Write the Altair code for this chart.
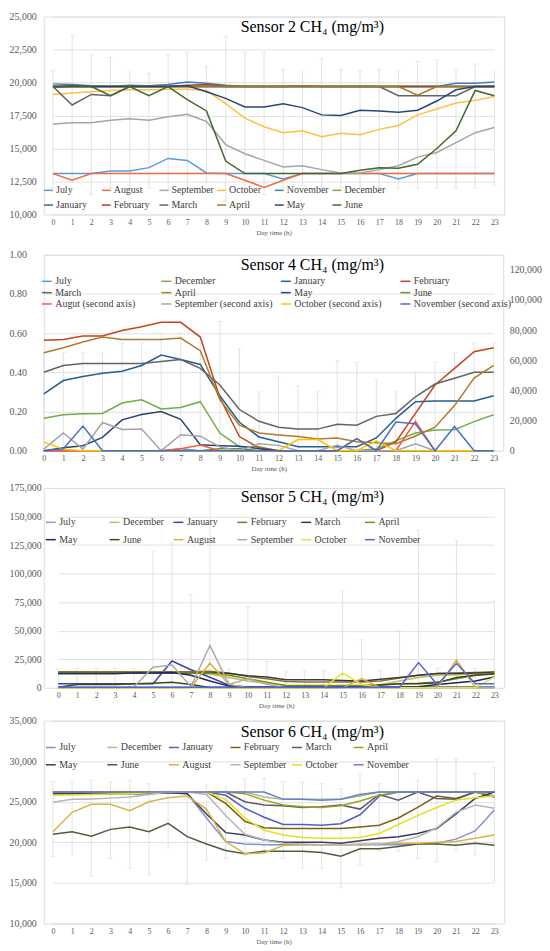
import altair as alt
import pandas as pd

FONT = "Liberation Serif"
HOURS = list(range(24))
GRID = "#D9D9D9"
LABEL = "#595959"
ERR = "#E2E2E2"

# ---------------- Sensor 2 ----------------
S2_NAMES = ["July", "August", "September", "October", "November", "December",
            "January", "February", "March", "April", "May", "June"]
S2_COLORS = ["#5B9BD5", "#F26A42", "#A5A5A5", "#FFC040", "#3F7CC0", "#70AD47",
             "#2E6AA0", "#B0401E", "#636363", "#A6791F", "#28457A", "#43682B"]
s2_july = [13100, 13100, 13100, 13300, 13300, 13550, 14250, 14100, 13150, 13100, 13100, 13100,
           12700, 13100, 13100, 13100, 13100, 13100, 12700, 13100, 13100, 13100, 13100, 13100]
s2_august = [13100, 12600, 13100, 13100, 13100, 13100, 13100, 13100, 13100, 13100, 12600, 12050,
             12600, 13100, 13100, 13100, 13100, 13100, 13100, 13100, 13100, 13100, 13100, 13100]
s2_september = [16850, 16950, 16950, 17150, 17250, 17150, 17400, 17600, 17050, 15300, 14600, 14100,
                13600, 13700, 13400, 13150, 13150, 13400, 13700, 14350, 14700, 15450, 16200, 16600]
s2_october = [19100, 19200, 19300, 19400, 19450, 19450, 19500, 19500, 19400, 18400, 17300, 16650,
              16200, 16350, 15900, 16150, 16050, 16450, 16750, 17550, 18000, 18450, 18650, 18950]
s2_november = [19900, 19850, 19750, 19700, 19800, 19750, 19850, 20050, 19950, 19800, 19700, 19700,
               19700, 19700, 19700, 19700, 19700, 19700, 19700, 19700, 19700, 19950, 19950, 20050]
s2_december = [19700, 19700, 19700, 19700, 19700, 19700, 19700, 19700, 19700, 19700, 19700, 19700,
               19700, 19750, 19700, 19700, 19700, 19700, 19700, 19700, 19700, 19700, 19700, 19700]
s2_january = [19650, 19700, 19700, 19700, 19700, 19700, 19700, 19700, 19700, 19700, 19700, 19700,
              19700, 19700, 19700, 19700, 19700, 19700, 19700, 19700, 19700, 19700, 19700, 19700]
s2_february = [19700, 19700, 19700, 19700, 19700, 19700, 19700, 19800, 19850, 19700, 19700, 19700,
               19700, 19700, 19700, 19700, 19700, 19700, 19700, 19700, 19700, 19700, 19700, 19700]
s2_march = [19700, 18300, 19100, 19000, 19700, 19700, 19700, 19700, 19700, 19700, 19700, 19700,
            19700, 19700, 19700, 19700, 19700, 19700, 19000, 19000, 19000, 19000, 19700, 19700]
s2_april = [19700, 19700, 19700, 19700, 19700, 19700, 19700, 19700, 19700, 19700, 19700, 19700,
            19700, 19750, 19700, 19700, 19700, 19700, 19700, 19050, 19700, 19700, 19700, 19700]
s2_may = [19700, 19700, 19700, 19700, 19700, 19700, 19700, 19750, 19300, 18800, 18150, 18150,
          18400, 18100, 17550, 17500, 17900, 17850, 17750, 17900, 18600, 19450, 19700, 19700]
s2_june = [19700, 19750, 19700, 19000, 19700, 19000, 19700, 18700, 17850, 14050, 13100, 13100,
           13100, 13100, 13100, 13100, 13350, 13550, 13500, 13800, 15000, 16350, 19400, 19000]
S2_SERIES = [s2_july, s2_august, s2_september, s2_october, s2_november, s2_december,
             s2_january, s2_february, s2_march, s2_april, s2_may, s2_june]
s2_err_lo = [12000, 12500, 11500, 12000, 12200, 12000, 11800, 12000, 12500, 11000, 11500, 11500,
             12000, 12200, 12000, 12000, 12000, 12000, 12000, 12000, 12000, 12000, 12000, 12200]
s2_err_hi = [20900, 23600, 22100, 21900, 20800, 20700, 22100, 22300, 21200, 23500, 22300, 22300,
             21000, 20800, 21800, 21000, 20900, 21000, 20900, 21600, 21700, 21000, 21400, 20800]

# ---------------- Sensor 4 ----------------
S4_LEFT = ["July", "December", "January", "February", "March", "April", "May", "June"]
S4_RIGHT = ["Augut (second axis)", "September (second axis)", "October (second axis)",
            "November (second axis)"]
S4_COLORS = ["#5B9BD5", "#70AD47", "#255E91", "#C0461E", "#636363", "#B07B28", "#264478", "#5E8E3E",
             "#FF5A36", "#A5A5A5", "#FFC000", "#4472C4"]
s4_july = [0, 0, 0, 0, 0, 0, 0, 0.01, 0, 0, 0, 0, 0, 0, 0, 0, 0, 0, 0, 0, 0, 0, 0, 0]
s4_december = [0.165, 0.183, 0.188, 0.19, 0.243, 0.26, 0.213, 0.22, 0.25, 0.09, 0.02, 0.02,
               0, 0, 0, 0, 0, 0.01, 0.05, 0.09, 0.105, 0.107, 0.148, 0.183]
s4_january = [0.29, 0.358, 0.378, 0.395, 0.405, 0.435, 0.488, 0.465, 0.44, 0.28, 0.145, 0.07,
              0.045, 0.02, 0.02, 0.02, 0.02, 0.065, 0.165, 0.25, 0.253, 0.253, 0.253, 0.28]
s4_february = [0.563, 0.568, 0.585, 0.585, 0.613, 0.633, 0.655, 0.655, 0.58, 0.27, 0.072, 0.015,
               0, 0, 0, 0, 0, 0, 0.045, 0.19, 0.335, 0.42, 0.505, 0.525]
s4_march = [0.40, 0.435, 0.445, 0.445, 0.445, 0.445, 0.455, 0.465, 0.42, 0.335, 0.21, 0.15,
            0.12, 0.11, 0.11, 0.135, 0.13, 0.175, 0.19, 0.275, 0.34, 0.37, 0.40, 0.40]
s4_april = [0.50, 0.525, 0.555, 0.58, 0.568, 0.568, 0.568, 0.575, 0.51, 0.26, 0.13, 0.09,
            0.08, 0.072, 0.06, 0.065, 0.045, 0.04, 0.035, 0.075, 0.12, 0.23, 0.37, 0.435]
s4_may = [0, 0.015, 0.025, 0.068, 0.157, 0.185, 0.2, 0.16, 0.03, 0.025, 0.022, 0.01,
          0, 0, 0, 0, 0, 0, 0, 0, 0, 0, 0, 0]
s4_june = [0, 0, 0, 0, 0, 0, 0, 0, 0, 0.01, 0.01, 0, 0, 0, 0, 0, 0, 0, 0, 0, 0, 0, 0, 0]
s4_august2 = [0, 0, 0, 0, 0, 0, 0, 1200, 3800, 0, 0, 0, 0, 0, 0, 0, 8000, 0, 0, 19500, 0, 0, 0, 0]
s4_september2 = [1000, 11700, 1000, 18700, 14100, 14300, 0, 10600, 9600, 2500, 0, 4600,
                 3500, 0, 0, 3500, 0, 0, 0, 4600, 0, 0, 0, 0]
s4_october2 = [5650, 1000, 0, 0, 0, 0, 0, 0, 0, 0, 0, 0, 0, 7400, 7400, 0, 0, 6500, 0, 0, 0, 0, 0, 0]
s4_november2 = [0, 1300, 16300, 0, 0, 0, 0, 0, 0, 0, 0, 0, 0, 0, 0, 0, 8000, 0, 19000, 17800,
                0, 16000, 0, 0]
S4_LEFT_SERIES = [s4_july, s4_december, s4_january, s4_february, s4_march, s4_april, s4_may, s4_june]
S4_RIGHT_SERIES = [s4_august2, s4_september2, s4_october2, s4_november2]
s4_err_lo = [0] * 24
s4_err_hi = [0.5, 0.5, 0.5, 0.5, 0.55, 0.55, 0.6, 0.6, 0.55, 0.66, 0.52, 0.3,
             0.38, 0.33, 0.3, 0.46, 0.45, 0.36, 0.3, 0.4, 0.45, 0.5, 0.55, 0.55]

# ---------------- Sensor 5 ----------------
S5_NAMES = ["July", "December", "January", "February", "March", "April",
            "May", "June", "August", "September", "October", "November"]
S5_COLORS = ["#8C9BE0", "#B5BF6B", "#3D43A8", "#8B7128", "#3A3A3A", "#7C8A14",
             "#1F2463", "#3E4A1A", "#D4B23C", "#ABABAB", "#E2E32A", "#5664D2"]
s5_july = [500, 500, 500, 500, 500, 500, 500, 500, 500, 500, 500, 500,
           500, 500, 500, 500, 500, 500, 500, 500, 500, 500, 500, 500]
s5_december = [13000, 13000, 13000, 13000, 13500, 13500, 13500, 13000, 12000, 9000, 6000, 4000,
               2000, 1500, 1500, 1500, 2000, 3000, 6000, 9000, 11000, 11500, 12000, 12500]
s5_january = [3500, 3500, 3500, 3500, 3500, 3500, 23500, 15800, 9200, 2300, 800, 500,
              500, 500, 500, 500, 500, 500, 500, 500, 500, 500, 500, 500]
s5_february = [14000, 14000, 14000, 14000, 14000, 14000, 14000, 14000, 14500, 13000, 10000, 8000,
               5500, 5000, 5000, 5000, 5000, 6000, 8500, 11000, 12500, 13000, 13500, 14000]
s5_march = [12500, 12500, 12500, 12500, 13000, 13000, 13000, 13000, 13500, 12500, 10500, 9500,
            7000, 7000, 7000, 6500, 6000, 7500, 9000, 11000, 12500, 12500, 13000, 13500]
s5_april = [13500, 13500, 13500, 13500, 13500, 13500, 13500, 13000, 13000, 11000, 8000, 5000,
            2000, 2000, 2000, 2000, 2000, 2500, 3500, 4000, 5000, 8000, 11000, 13000]
s5_may = [12500, 12500, 12500, 12500, 13000, 13000, 13500, 11000, 6000, 1500, 500, 500,
          500, 500, 500, 500, 500, 500, 500, 1000, 3000, 4500, 6000, 9500]
s5_june = [500, 3000, 3000, 3000, 3500, 4000, 4800, 3000, 300, 300, 300, 300,
           300, 300, 300, 500, 1000, 2500, 3500, 3500, 4500, 9000, 11000, 12000]
s5_august = [0, 0, 0, 0, 0, 0, 0, 500, 21500, 3000, 0, 0, 0, 0, 0, 0, 8000, 0, 0, 0, 0, 24500, 0, 0]
s5_september = [0, 0, 0, 0, 1000, 18000, 20000, 1000, 37000, 3000, 8000, 3000,
                0, 0, 0, 0, 0, 0, 0, 0, 0, 0, 0, 0]
s5_october = [0, 0, 0, 0, 0, 0, 0, 0, 0, 0, 0, 0, 0, 0, 0, 12900, 2900, 0, 0, 0, 0, 0, 0, 9500]
s5_november = [500, 500, 500, 500, 500, 500, 500, 500, 500, 500, 500, 500,
               500, 500, 500, 500, 500, 500, 500, 22100, 2600, 21500, 3500, 3500]
S5_SERIES = [s5_july, s5_december, s5_january, s5_february, s5_march, s5_april,
             s5_may, s5_june, s5_august, s5_september, s5_october, s5_november]
s5_err_lo = [0] * 24
s5_err_hi = [17000, 17000, 17000, 17000, 17000, 120000, 127000, 82000, 173000, 16000, 71000, 23000,
             14000, 15000, 15000, 85000, 42000, 15000, 50000, 138000, 17000, 129000, 17000, 76000]

# ---------------- Sensor 6 ----------------
S6_NAMES = S5_NAMES
S6_COLORS = ["#7E92DB", "#A6C47E", "#4F5FBF", "#7F5E14", "#58586A", "#A0A01E",
             "#3A3A5A", "#4E5E3E", "#D9B447", "#B5B5B5", "#E5E022", "#6B7BD6"]
s6_july = [26200, 26200, 26200, 26200, 26200, 26200, 26200, 26000, 23000, 20100, 19800, 19700,
           19700, 19700, 19700, 19700, 19700, 19700, 19700, 19800, 19900, 20400, 21400, 24000]
s6_december = [26200, 26200, 26200, 26200, 26200, 26200, 26200, 26200, 26200, 26200, 26200, 25600,
               25300, 25300, 25300, 25300, 25700, 26200, 26200, 26200, 26200, 26200, 26200, 26200]
s6_january = [26200, 26200, 26200, 26200, 26200, 26200, 26200, 26200, 26200, 25800, 24200, 23100,
              22200, 22200, 22100, 22300, 23400, 25700, 26200, 26200, 26200, 26200, 26200, 26200]
s6_february = [26200, 26200, 26200, 26200, 26200, 26200, 26200, 26200, 26200, 24800, 22600, 21800,
               21700, 21700, 21700, 21700, 21900, 22100, 23000, 24300, 25700, 25400, 26200, 26200]
s6_march = [26200, 26200, 26200, 26200, 26200, 26200, 26200, 26200, 26200, 26200, 25000, 24600,
            24500, 24300, 24400, 24600, 24100, 25900, 25200, 26200, 25400, 25300, 26200, 25600]
s6_april = [26200, 26200, 26200, 26200, 26200, 26200, 26200, 26200, 26200, 26200, 26000, 25200,
            24600, 24400, 24300, 24500, 25100, 25800, 26200, 26200, 26200, 26200, 26200, 25700]
s6_may = [26000, 26000, 26000, 26000, 26000, 26000, 26100, 26000, 23500, 21200, 20900, 20300,
          20000, 20000, 20000, 19900, 20200, 20500, 20700, 21100, 21700, 23500, 25400, 26200]
s6_june = [21000, 21300, 20750, 21600, 21900, 21300, 22350, 20700, 19800, 19000, 18600, 18900,
           18900, 18900, 18750, 18300, 19200, 19200, 19500, 19800, 19800, 19650, 19900, 19650]
s6_august = [21300, 23700, 24700, 24700, 23900, 25000, 25500, 25700, 24100, 20100, 18600, 18700,
             19600, 19700, 19700, 19700, 19700, 19800, 19900, 19900, 20000, 20100, 20500, 20900]
s6_september = [24950, 25300, 25350, 25450, 25600, 25900, 26200, 26200, 25900, 23300, 21000, 20300,
                19900, 19800, 19700, 19700, 19800, 19800, 20100, 20700, 21800, 23700, 24600, 24200]
s6_october = [25800, 25850, 25900, 25950, 26000, 26100, 26200, 26200, 26200, 25300, 23000, 21500,
              20900, 20600, 20500, 20500, 20600, 21100, 22200, 23300, 24300, 25200, 25500, 25700]
s6_november = [26200, 26200, 26200, 26200, 26200, 26200, 26200, 26200, 26200, 26200, 26200, 26200,
               25300, 25300, 25200, 25300, 25900, 26200, 26200, 26200, 26200, 26200, 26200, 26200]
S6_SERIES = [s6_july, s6_december, s6_january, s6_february, s6_march, s6_april,
             s6_may, s6_june, s6_august, s6_september, s6_october, s6_november]
s6_err_lo = [18250, 18450, 15800, 18050, 16800, 16000, 19300, 14800, 17800, 18050, 18450, 18900,
             18050, 16800, 16800, 14400, 17300, 18900, 18900, 18050, 17600, 18900, 18450, 15200]
s6_err_hi = [27440, 27440, 27650, 27440, 27650, 27240, 26420, 26010, 27030, 26830, 27850, 27850,
             27440, 27440, 27240, 26630, 28460, 27240, 29890, 27650, 30300, 30300, 28460, 29280]

TITLES = ["Sensor 2 CH\u2084 (mg/m\u00b3)", "Sensor 4 CH\u2084 (mg/m\u00b3)",
          "Sensor 5 CH\u2084 (mg/m\u00b3)", "Sensor 6 CH\u2084 (mg/m\u00b3)"]


def long_df(names, series):
    rows = []
    for name, vals in zip(names, series):
        for h, v in zip(HOURS, vals):
            rows.append({"hour": h, "series": name, "value": v})
    return pd.DataFrame(rows)


def err_df(lo, hi):
    return pd.DataFrame({"hour": HOURS, "lo": lo, "hi": hi})


def x_enc(xr):
    return alt.X("hour:O", scale=alt.Scale(type="point", padding=0, domain=HOURS, range=xr),
                 axis=alt.Axis(title="Day time (h)", labelAngle=0, labelFont=FONT, labelFontSize=8,
                               labelColor=LABEL, labelPadding=4, ticks=False, domain=False, grid=False,
                               labelOverlap=False,
                               titleFont=FONT, titleFontSize=7, titleFontWeight="normal",
                               titleColor=LABEL, titlePadding=2))


def y_axis(values, fmt, orient="left", grid=True, pad=7.5):
    return alt.Axis(values=values, format=fmt, orient=orient, title=None, labelFont=FONT,
                    labelFontSize=10, labelColor=LABEL, labelPadding=pad, ticks=False,
                    labelOverlap=False, domain=False, grid=grid, gridColor=GRID, gridWidth=0.8)


def legend(cols, lx, ly, colpad, rowpad, ssize=100, loff=2.5):
    return alt.Legend(title=None, orient="none", legendX=lx, legendY=ly, columns=cols,
                      direction="horizontal", symbolType="stroke", symbolSize=ssize,
                      symbolStrokeWidth=1.5, labelFont=FONT, labelFontSize=10,
                      labelColor="#404040", labelOffset=loff, columnPadding=colpad,
                      rowPadding=rowpad, gridAlign="all", padding=0, labelLimit=300)


def title_layer(text, ty):
    return alt.Chart(pd.DataFrame({"t": [text]})).mark_text(
        font=FONT, fontSize=16, color="#000000", align="center", baseline="alphabetic"
    ).encode(text="t:N", x=alt.value(270), y=alt.value(ty))


def err_layers(lo, hi, yscale, yaxis, xr):
    d = err_df(lo, hi)
    base = alt.Chart(d)
    rule = base.mark_rule(color=ERR, strokeWidth=1).encode(
        x=x_enc(xr), y=alt.Y("lo:Q", scale=yscale, axis=yaxis), y2="hi:Q")
    cap_hi = base.mark_tick(color=ERR, thickness=1, size=5).encode(
        x=x_enc(xr), y=alt.Y("hi:Q", scale=yscale, axis=yaxis))
    cap_lo = base.mark_tick(color=ERR, thickness=1, size=5).encode(
        x=x_enc(xr), y=alt.Y("lo:Q", scale=yscale, axis=yaxis))
    return [rule, cap_hi, cap_lo]


def simple_panel(names, colors, series, lo, hi, ydom, yvals, pad, xr, w, h, ttl, ty, leg):
    yscale = alt.Scale(domain=ydom, nice=False, zero=False)
    yaxis = y_axis(yvals, ",.0f", pad=pad)
    lines = alt.Chart(long_df(names, series)).mark_line(strokeWidth=1.5).encode(
        x=x_enc(xr),
        y=alt.Y("value:Q", scale=yscale, axis=yaxis),
        color=alt.Color("series:N", scale=alt.Scale(domain=names, range=colors), sort=names,
                        legend=leg),
    )
    return alt.layer(*err_layers(lo, hi, yscale, yaxis, xr), lines, title_layer(ttl, ty)).properties(
        width=w, height=h)


p1 = simple_panel(S2_NAMES, S2_COLORS, S2_SERIES, s2_err_lo, s2_err_hi, [10000, 25000],
                  [10000, 12500, 15000, 17500, 20000, 22500, 25000], 7.5, [9.2, 453.1], 463, 199,
                  TITLES[0], 15.5, legend(6, -0.7, 169, 0, 4, ssize=81, loff=2))

# Sensor 4: two axes
XR2 = [0, 452.4]
s4_names = S4_LEFT + S4_RIGHT
s4_color = alt.Color("series:N", scale=alt.Scale(domain=s4_names, range=S4_COLORS), sort=s4_names,
                     legend=legend(4, -3, 20.7, 5.2, 0.4))
s4_lscale = alt.Scale(domain=[0, 1], nice=False, zero=False)
s4_laxis = y_axis([0, 0.2, 0.4, 0.6, 0.8, 1.0], ".2f", pad=17.5)
s4_left_lines = alt.Chart(long_df(S4_LEFT, S4_LEFT_SERIES)).mark_line(strokeWidth=1.5).encode(
    x=x_enc(XR2),
    y=alt.Y("value:Q", scale=s4_lscale, axis=s4_laxis),
    color=s4_color)
s4_left = alt.layer(*err_layers(s4_err_lo, s4_err_hi, s4_lscale, s4_laxis, XR2), s4_left_lines,
                    title_layer(TITLES[1], 15.5))
s4_right = alt.Chart(long_df(S4_RIGHT, S4_RIGHT_SERIES)).mark_line(strokeWidth=1.5).encode(
    x=x_enc(XR2),
    y=alt.Y("value:Q", scale=alt.Scale(domain=[0, 130000], nice=False, zero=False),
            axis=y_axis([0, 20000, 40000, 60000, 80000, 100000, 120000], ",.0f", orient="right",
                        grid=False, pad=6)),
    color=s4_color)
p2 = alt.layer(s4_left, s4_right).resolve_scale(y="independent").properties(width=462, height=197)

p3 = simple_panel(S5_NAMES, S5_COLORS, S5_SERIES, s5_err_lo, s5_err_hi, [0, 175000],
                  [0, 25000, 50000, 75000, 100000, 125000, 150000, 175000], 2.5, [14.5, 453.1],
                  463, 201, TITLES[2], 13.8, legend(6, 1, 28.6, 4.2, 6.4))

p4 = simple_panel(S6_NAMES, S6_COLORS, S6_SERIES, s6_err_lo, s6_err_hi, [10000, 35000],
                  [10000, 15000, 20000, 25000, 30000, 35000], 7.5, [9.2, 453.1], 463, 204,
                  TITLES[3], 16.7, legend(6, 1, 21, 1.9, 6.4))

top = alt.vconcat(p1, p2, spacing=12.5).resolve_scale(color="independent")
bottom = alt.vconcat(p3, p4, spacing=5).resolve_scale(color="independent")
chart = alt.vconcat(top, bottom, spacing=10).resolve_scale(color="independent").properties(
    padding={"left": 0, "top": 0, "right": 0, "bottom": 0}
).configure_view(strokeWidth=0).configure(background="white")

chart.save("out.html", embed_options={"renderer": "svg", "actions": False})
